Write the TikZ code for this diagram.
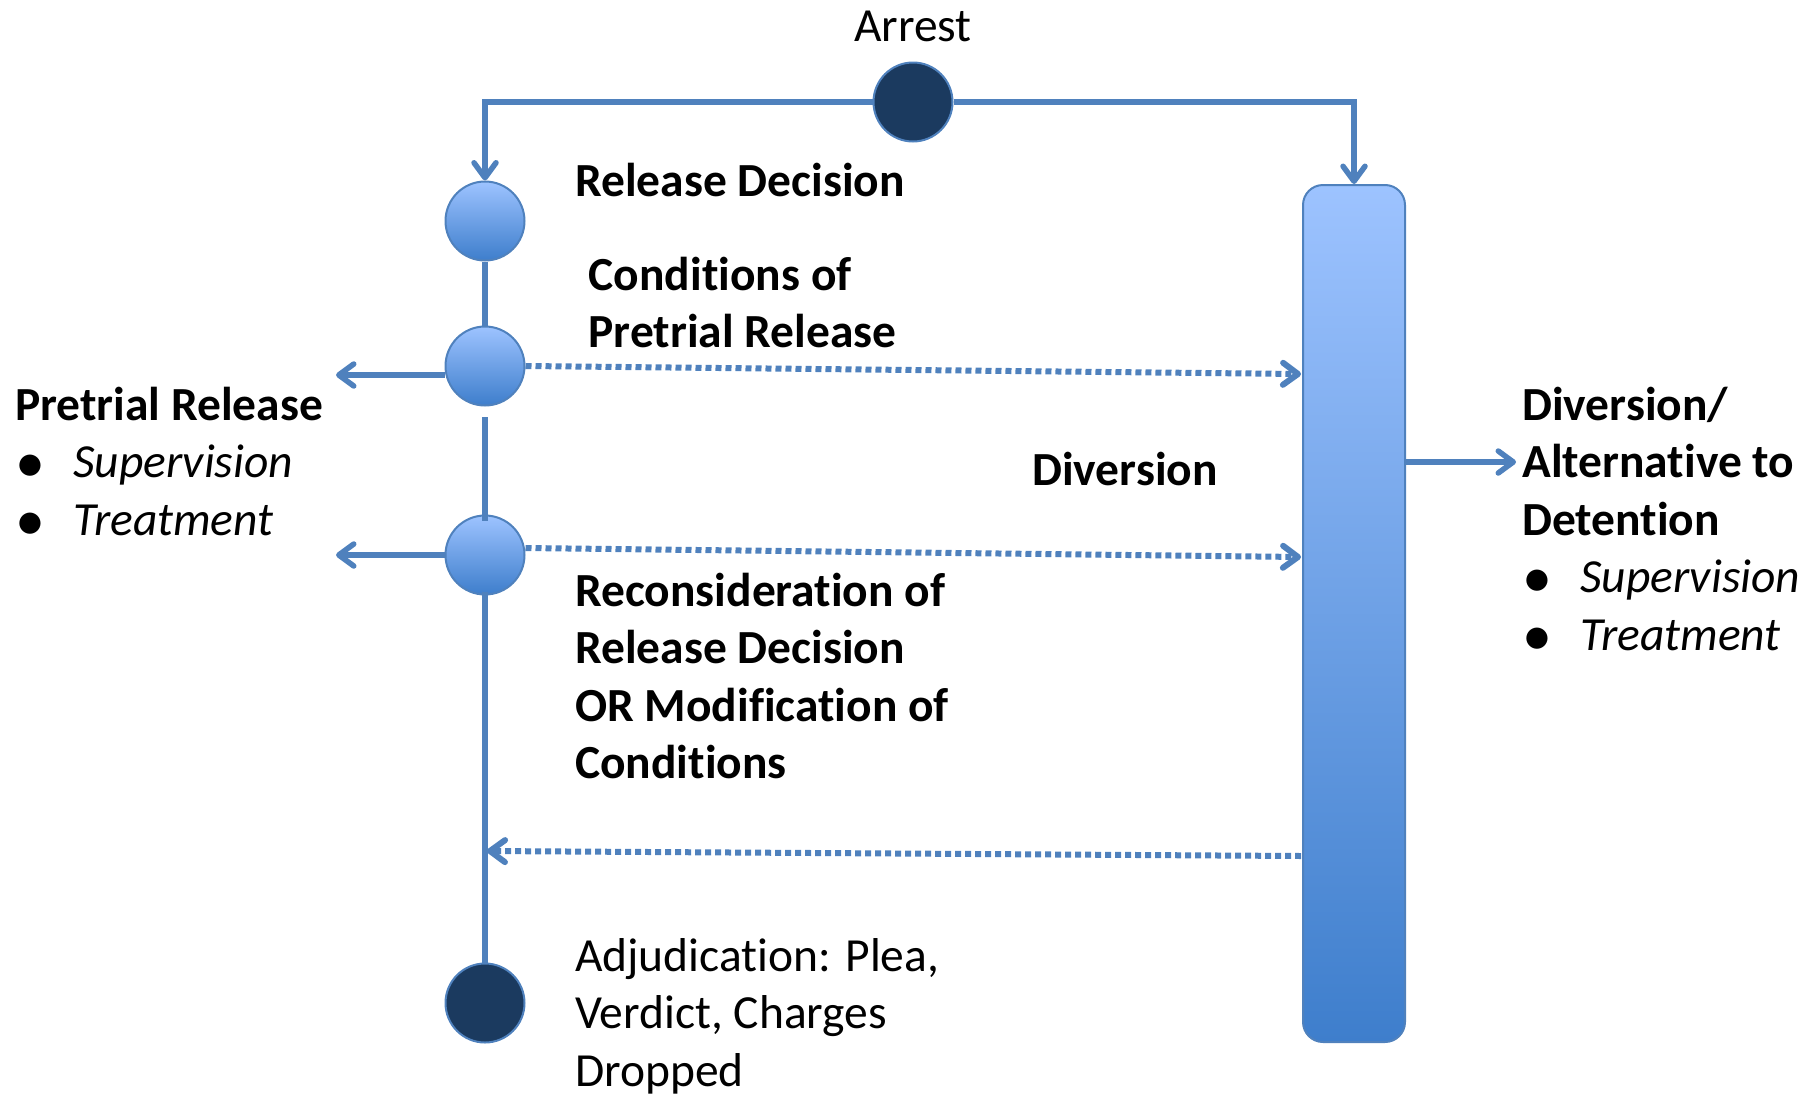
\documentclass[tikz,border=0pt]{standalone}
\usepackage{fontspec}
\setmainfont{Carlito}[Ligatures=NoCommon]
\usetikzlibrary{arrows.meta}
\definecolor{lineblue}{RGB}{79,129,189}
\definecolor{darkblue}{RGB}{27,58,95}
\definecolor{lightfill}{RGB}{157,195,255}
\definecolor{darkfill}{RGB}{62,126,204}
\newcommand{\mylines}[1]{\begin{tabular}[t]{@{}l@{}}#1\end{tabular}}
\newcommand{\mybullets}[1]{\begin{tabular}[t]{@{}p{58pt}@{}l@{}}#1\end{tabular}}
\newcommand{\mybul}{\raisebox{-5pt}{\fontsize{60}{57.5}\selectfont\textbullet}}
\begin{document}
\begin{tikzpicture}[x=1pt,y=-1pt,
  conn/.style={draw=lineblue, line width=5.5pt},
  dotc/.style={draw=lineblue, line width=6pt, dash pattern=on 6pt off 4pt},
  tip/.style={-{Straight Barb[length=15pt,width=22pt,round]}},
  circ/.style={circle, inner sep=0pt, minimum size=79pt, draw=lineblue, line width=2pt, top color=lightfill, bottom color=darkfill},
  dark/.style={circle, inner sep=0pt, minimum size=79pt, draw=lineblue, line width=2pt, fill=darkblue},
  bar/.style={rectangle, rounded corners=20pt, minimum width=102pt, minimum height=857pt, draw=lineblue, line width=2pt, top color=lightfill, bottom color=darkfill, inner sep=0pt},
  txt/.style={inner sep=0pt, anchor=base west, font=\fontsize{47.5}{57.5}\selectfont},
]
\useasboundingbox (0,0) rectangle (1820,1098);

% nodes
\node[dark] (arr) at (913,102) {};
\node[circ] (rd) at (485,221) {};
\node[circ] (cp) at (485,366) {};
\node[circ] (rc) at (485,555) {};
\node[dark] (adj) at (485,1003) {};
\node[bar] (bar) at (1354,613.5) {};

% free ends
\coordinate (pl1) at (336,375);
\coordinate (pl2) at (336,555);
\coordinate (b1) at (1301,374);
\coordinate (b2) at (1301,557);
\coordinate (b3) at (1301,856);
\coordinate (v3) at (487,851);
\coordinate (dv) at (1516,462);
\coordinate (g1) at (485,417);
\coordinate (g2) at (485,521);
\coordinate (g3) at (485,592);

% connectors
\draw[conn,tip] (arr.west) -| (rd.north);
\draw[conn,tip] (arr.east) -| (bar.north);
\draw[conn] (rd.south) -- (cp.north);
\draw[conn] (g1) -- (g2);
\draw[conn] (g3) -- (adj.north);
\draw[conn,tip] ([yshift=-9pt]cp.west) -- (pl1);
\draw[conn,tip] (rc.west) -- (pl2);
\draw[dotc,tip] (cp.east) -- (b1);
\draw[dotc,tip] ([yshift=7pt]rc.east) -- (b2);
\draw[dotc,tip] (b3) -- (v3);
\draw[conn,tip] (bar.east |- dv) -- (dv);

% texts
\node[txt, anchor=base] (tArr) at (913,41) {Arrest};
\node[txt] (tRD) at (575,196) {\bfseries Release Decision};
\node[txt] (tCP) at (588.5,290) {\bfseries\mylines{Conditions of\\Pretrial Release}};
\node[txt] (tRC) at (575,606) {\bfseries\mylines{Reconsideration of\\Release Decision\\OR Modification of\\Conditions}};
\node[txt] (tDiv) at (1032,485) {\bfseries Diversion};
\node[txt] (tAdj) at (575,971) {\mylines{Adjudication: Plea,\\Verdict, Charges\\Dropped}};
\node[txt] (tPR) at (15,420) {\mybullets{\multicolumn{2}{@{}l@{}}{\bfseries Pretrial Release}\\ \mybul & \itshape Supervision\\ \mybul & \itshape Treatment}};
\node[txt] (tDA) at (1522,420) {\mybullets{\multicolumn{2}{@{}l@{}}{\bfseries Diversion/}\\ \multicolumn{2}{@{}l@{}}{\bfseries Alternative to}\\ \multicolumn{2}{@{}l@{}}{\bfseries Detention}\\ \mybul & \itshape Supervision\\ \mybul & \itshape Treatment}};
\end{tikzpicture}
\end{document}
